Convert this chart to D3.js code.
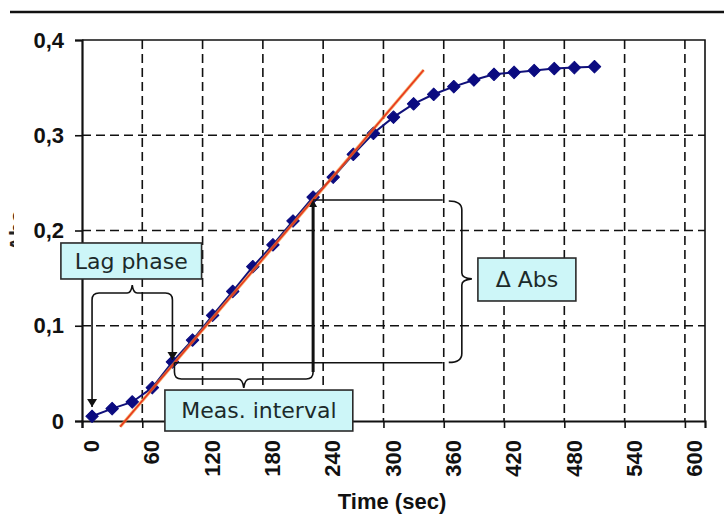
<!DOCTYPE html>
<html>
<head>
<meta charset="utf-8">
<script src="https://cdn.jsdelivr.net/npm/d3@7"></script>
<style>
body { margin: 0; background: #fff; }
svg { display: block; }
</style>
</head>
<body>
<div id="chart"></div>
<script>

// measured absorbance vs time
var timeSec = [10, 30, 50, 70, 90, 110, 130, 150, 170, 190, 210, 230, 250,
  270, 290, 310, 330, 350, 370, 390, 410, 430, 450, 470, 490, 510];
var absValues = [0.005, 0.013, 0.020, 0.035, 0.062, 0.085, 0.111, 0.136, 0.162,
  0.185, 0.210, 0.235, 0.256, 0.280, 0.302, 0.319, 0.333, 0.343, 0.351, 0.358,
  0.364, 0.366, 0.368, 0.370, 0.371, 0.372];

// linear fit through the measuring interval (two end points)
var fitT = [38, 340];
var fitAbs = [-0.006, 0.3685];

var xTicks = [0, 60, 120, 180, 240, 300, 360, 420, 480, 540, 600];
var yTicks = [0, 0.1, 0.2, 0.3, 0.4];
var yTickLabels = ["0", "0,1", "0,2", "0,3", "0,4"];

// annotation anchors (data units)
var lagStart = 10, measStart = 90, measEnd = 230;

var width = 724,
    height = 520;

var axisFont = "bold 22px 'Liberation Sans', Arial, sans-serif";

var svg = d3.select("#chart").append("svg")
  .attr("width", width)
  .attr("height", height);

var x = d3.scaleLinear().domain([0, 620]).range([82, 705]);
var y = d3.scaleLinear().domain([0, 0.4]).range([421, 40]);

// top rule
svg.append("line")
  .attr("x1", 10).attr("x2", width)
  .attr("y1", 12).attr("y2", 12)
  .attr("stroke", "#111").attr("stroke-width", 2.5);

// cut off y title at the very left (only glyph tops survive the crop)
svg.append("clipPath").attr("id", "ycut")
  .append("rect").attr("x", 8).attr("y", 190).attr("width", 6).attr("height", 80);
svg.append("g")
  .attr("clip-path", "url(#ycut)")
  .append("text")
  .attr("transform", "translate(25," + 231 + ") rotate(-90)")
  .attr("text-anchor", "middle")
  .style("font", axisFont)
  .attr("fill", "#222")
  .text("Abs");

// grid
var grid = svg.append("g").attr("class", "grid")
  .attr("stroke", "#111").attr("stroke-width", 1.6)
  .attr("stroke-dasharray", "9,5");

grid.selectAll("line.v")
  .data(xTicks.filter(function(d){ return d > 0 }))
  .enter().append("line").attr("class", "v")
  .attr("x1", function(d){ return x(d) }).attr("x2", function(d){ return x(d) })
  .attr("y1", y(0.4)).attr("y2", y(0));

grid.selectAll("line.h")
  .data(yTicks.filter(function(d){ return d > 0 && d < 0.4 }))
  .enter().append("line").attr("class", "h")
  .attr("x1", x(0)).attr("x2", x(620))
  .attr("y1", function(d){ return y(d) }).attr("y2", function(d){ return y(d) });

// frame top / right
svg.append("path")
  .attr("d", "M" + x(0) + "," + y(0.4) + "H" + x(620) + "V" + y(0))
  .attr("fill", "none").attr("stroke", "#111").attr("stroke-width", 1.6);

// axes
var yAxis = d3.axisLeft(y)
  .tickValues(yTicks)
  .tickSize(7)
  .tickPadding(11)
  .tickFormat(function(d, i){ return yTickLabels[i] });

var gy = svg.append("g")
  .attr("transform", "translate(" + x(0) + ",0)")
  .call(yAxis);

var xAxis = d3.axisBottom(x)
  .tickValues(xTicks)
  .tickSize(7)
  .tickFormat(function(d){ return d });

var gx = svg.append("g")
  .attr("transform", "translate(0," + y(0) + ")")
  .call(xAxis);

gx.selectAll("text")
  .attr("x", 0).attr("y", 0).attr("dy", "0.35em")
  .attr("transform", "translate(9,19) rotate(-90)")
  .attr("text-anchor", "end");

[gx, gy].forEach(function(g){
  g.select(".domain").attr("stroke", "#111").attr("stroke-width", 2.2);
  g.selectAll(".tick line").attr("stroke", "#111").attr("stroke-width", 1.6);
  g.selectAll("text")
    .attr("fill", "#111")
    .style("font", axisFont);
});

svg.append("text")
  .attr("x", 392).attr("y", 509)
  .attr("text-anchor", "middle")
  .attr("fill", "#111")
  .style("font", axisFont)
  .text("Time (sec)");

// data series
var pts = timeSec.map(function(t, i){ return {t: t, v: absValues[i]} });

var line = d3.line()
  .x(function(d){ return x(d.t) })
  .y(function(d){ return y(d.v) });

svg.append("path")
  .datum(pts)
  .attr("d", line)
  .attr("fill", "none")
  .attr("stroke", "#10107a")
  .attr("stroke-width", 2);

svg.selectAll("path.pt")
  .data(pts)
  .enter().append("path").attr("class", "pt")
  .attr("d", d3.symbol().type(d3.symbolSquare).size(78))
  .attr("transform", function(d){ return "translate(" + x(d.t) + "," + y(d.v) + ") rotate(45)" })
  .attr("fill", "#0b0b80")
  .attr("stroke", "#0b0b80")
  .attr("stroke-width", 1)
  .attr("stroke-linejoin", "round");

// fitted line
var fit = fitT.map(function(t, i){ return {t: t, v: fitAbs[i]} });
svg.append("path").datum(fit).attr("d", line)
  .attr("stroke", "#f08a30").attr("stroke-width", 3.2).attr("opacity", 0.7);
svg.append("path").datum(fit).attr("d", line)
  .attr("stroke", "#e8341a").attr("stroke-width", 1.5);

// ---- annotations ----
var ann = svg.append("g").attr("class", "annotations");
var stroke = "#111";

function arrowDown(px, py){
  ann.append("path")
    .attr("d", "M" + (px - 5) + "," + (py - 8) + "H" + (px + 5) + "L" + px + "," + py + "Z")
    .attr("fill", stroke);
}

// lag phase brace: from first point to start of measuring interval
var lx1 = x(lagStart), lx2 = x(measStart), ly = y(0.1344), r = 7;
var lm = (lx1 + lx2) / 2;
ann.append("path")
  .attr("d",
    "M" + lx1 + "," + y(0.0147) +
    "V" + (ly + r) + "Q" + lx1 + "," + ly + " " + (lx1 + r) + "," + ly +
    "H" + (lm - 5) + "Q" + (lm - 1) + "," + ly + " " + lm + "," + (ly - 8) +
    "Q" + (lm + 1) + "," + ly + " " + (lm + 5) + "," + ly +
    "H" + (lx2 - r) + "Q" + lx2 + "," + ly + " " + lx2 + "," + (ly + r) +
    "V" + y(0.064))
  .attr("fill", "none").attr("stroke", stroke).attr("stroke-width", 1.6);
arrowDown(lx1, y(0.0147));
arrowDown(lx2, y(0.064));

// measuring interval brace
var mx1 = x(measStart) + 2, mx2 = x(measEnd), myTop = y(0.0612), myB = y(0.0441);
var mm = (mx1 + mx2) / 2;
ann.append("path")
  .attr("d",
    "M" + mx1 + "," + myTop +
    "V" + (myB - r) + "Q" + mx1 + "," + myB + " " + (mx1 + r) + "," + myB +
    "H" + (mm - 6) + "Q" + (mm - 1) + "," + myB + " " + mm + "," + (myB + 9) +
    "Q" + (mm + 1) + "," + myB + " " + (mm + 6) + "," + myB +
    "H" + (mx2 - r) + "Q" + mx2 + "," + myB + " " + mx2 + "," + (myB - r))
  .attr("fill", "none").attr("stroke", stroke).attr("stroke-width", 1.6);

// thick vertical up to the fit line at end of interval
ann.append("line")
  .attr("x1", mx2).attr("x2", mx2)
  .attr("y1", myB - r).attr("y2", y(0.232) + 3)
  .attr("stroke", stroke).attr("stroke-width", 3);
ann.append("path")
  .attr("d", "M" + (mx2 - 4) + "," + (y(0.232) + 7) + "L" + mx2 + "," + y(0.232) + "L" + (mx2 + 4) + "," + (y(0.232) + 7) + "Z")
  .attr("fill", stroke);

// delta abs level lines
var dxEnd = x(359);
ann.append("line")
  .attr("x1", x(measStart) + 2).attr("x2", dxEnd)
  .attr("y1", myTop).attr("y2", myTop)
  .attr("stroke", stroke).attr("stroke-width", 1.6);
ann.append("line")
  .attr("x1", mx2).attr("x2", dxEnd)
  .attr("y1", y(0.232)).attr("y2", y(0.232))
  .attr("stroke", stroke).attr("stroke-width", 1.6);

// delta abs brace (vertical)
var bx0 = x(365), bx = x(378), by1 = y(0.231), by2 = y(0.0615);
var bm = y(0.1492);
ann.append("path")
  .attr("d",
    "M" + bx0 + "," + by1 + "Q" + bx + "," + by1 + " " + bx + "," + (by1 + r + 2) +
    "V" + (bm - 6) + "Q" + bx + "," + (bm - 1) + " " + (bx + 10) + "," + bm +
    "Q" + bx + "," + (bm + 1) + " " + bx + "," + (bm + 6) +
    "V" + (by2 - r - 2) + "Q" + bx + "," + by2 + " " + bx0 + "," + by2)
  .attr("fill", "none").attr("stroke", stroke).attr("stroke-width", 1.6);

// label boxes
var boxes = [
  {text: "Lag phase", t0: -21, t1: 119, v0: 0.1869, v1: 0.1491},
  {text: "Meas. interval", t0: 82.5, t1: 269.5, v0: 0.0325, v1: -0.0105},
  {text: "\u0394 Abs", t0: 394, t1: 491.5, v0: 0.1711, v1: 0.126}
];

var bg = ann.selectAll("g.box")
  .data(boxes)
  .enter().append("g").attr("class", "box");

bg.append("rect")
  .attr("x", function(d){ return x(d.t0) })
  .attr("y", function(d){ return y(d.v0) })
  .attr("width", function(d){ return x(d.t1) - x(d.t0) })
  .attr("height", function(d){ return y(d.v1) - y(d.v0) })
  .attr("fill", "#cdf6f8")
  .attr("stroke", "#2a2a2a")
  .attr("stroke-width", 1.6);

bg.append("text")
  .attr("x", function(d){ return (x(d.t0) + x(d.t1)) / 2 })
  .attr("y", function(d){ return (y(d.v0) + y(d.v1)) / 2 })
  .attr("dy", "0.36em")
  .attr("text-anchor", "middle")
  .attr("fill", "#1c2a2a")
  .style("font", "22px 'DejaVu Sans', Verdana, sans-serif")
  .text(function(d){ return d.text });

</script>
</body>
</html>
